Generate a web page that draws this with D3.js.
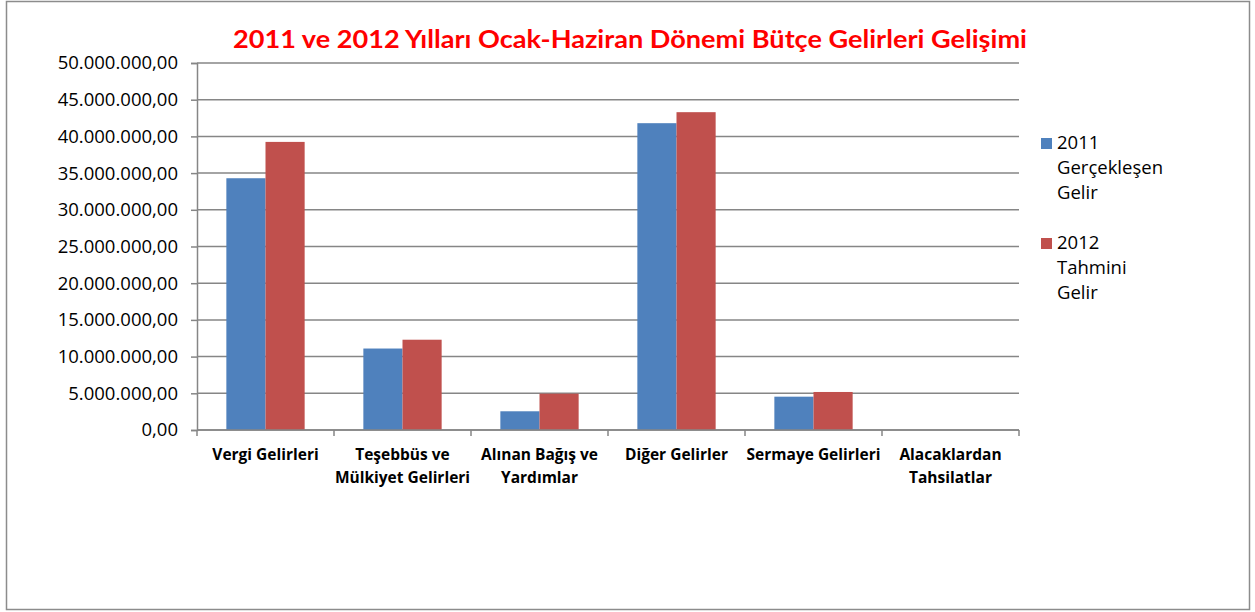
<!DOCTYPE html>
<html>
<head>
<meta charset="utf-8">
<script src="https://cdn.jsdelivr.net/npm/d3@7"></script>
<style>
  body { margin: 0; background: #fff; }
  text { font-family: "Open Sans", sans-serif; }
</style>
</head>
<body>
<div id="chart"></div>
<script>
// categories and values
var categories = [
  ["Vergi Gelirleri"],
  ["Teşebbüs ve", "Mülkiyet Gelirleri"],
  ["Alınan Bağış ve", "Yardımlar"],
  ["Diğer Gelirler"],
  ["Sermaye Gelirleri"],
  ["Alacaklardan", "Tahsilatlar"]
];
var gelir2011 = [34300000, 11100000, 2550000, 41800000, 4540000, 0];
var gelir2012 = [39250000, 12300000, 4950000, 43300000, 5180000, 0];
var seriesNames = [["2011", "Gerçekleşen", "Gelir"], ["2012", "Tahmini", "Gelir"]];
var colors = ["#4f81bd", "#c0504d"];
var yTicks = [0, 5e6, 10e6, 15e6, 20e6, 25e6, 30e6, 35e6, 40e6, 45e6, 50e6];

var W = 1255, H = 612;
var margin = {top: 63, left: 197, right: 236, bottom: 182};

var svg = d3.select("#chart").append("svg")
  .attr("width", W)
  .attr("height", H);

// outer border
svg.append("rect")
  .attr("x", 6.5).attr("y", 1.5)
  .attr("width", 1243).attr("height", 608)
  .attr("fill", "none")
  .attr("stroke", "#8c8c8c")
  .attr("stroke-width", 1.5);

var locale = d3.formatLocale({decimal: ",", thousands: ".", grouping: [3], currency: ["", ""]});
var fmt = locale.format(",.2f");

var x0 = d3.scaleBand()
  .domain(d3.range(categories.length))
  .range([margin.left, W - margin.right]);

var x1 = d3.scaleBand()
  .domain([0, 1])
  .range([0, x0.bandwidth()])
  .paddingOuter(0.75)
  .paddingInner(0);

var y = d3.scaleLinear()
  .domain([0, 50e6])
  .range([H - margin.bottom, margin.top]);

// gridlines
svg.append("g").selectAll("line")
  .data(yTicks)
  .enter().append("line")
  .attr("x1", margin.left).attr("x2", W - margin.right)
  .attr("y1", d => y(d)).attr("y2", d => y(d))
  .attr("stroke", "#868686")
  .attr("stroke-width", 1.5);

// y axis
var yAxis = svg.append("g")
  .attr("transform", "translate(" + margin.left + ",0)")
  .call(d3.axisLeft(y).tickValues(yTicks).tickFormat(fmt).tickSize(6).tickPadding(13));
yAxis.select(".domain").attr("stroke", "#868686").attr("stroke-width", 1.5);
yAxis.selectAll(".tick line").attr("stroke", "#868686").attr("stroke-width", 1.5);
yAxis.selectAll("text")
  .attr("font-size", 18.5)
  .attr("fill", "#000")
  .style("font-family", "'Open Sans', sans-serif");

// bars
var groups = svg.append("g").selectAll("g")
  .data(categories.map((c, i) => [gelir2011[i], gelir2012[i]]))
  .enter().append("g")
  .attr("transform", (d, i) => "translate(" + x0(i) + ",0)");

groups.selectAll("rect")
  .data(d => d)
  .enter().append("rect")
  .attr("x", (d, j) => x1(j))
  .attr("width", x1.bandwidth())
  .attr("y", d => y(d))
  .attr("height", d => y(0) - y(d))
  .attr("fill", (d, j) => colors[j]);

// x axis
var xTickPos = d3.range(categories.length + 1).map(i => margin.left + i * x0.step());
var xg = svg.append("g");
xg.append("line")
  .attr("x1", margin.left).attr("x2", W - margin.right)
  .attr("y1", y(0)).attr("y2", y(0))
  .attr("stroke", "#868686").attr("stroke-width", 1.5);
xg.selectAll(".tk")
  .data(xTickPos)
  .enter().append("line")
  .attr("x1", d => d).attr("x2", d => d)
  .attr("y1", y(0)).attr("y2", y(0) + 6)
  .attr("stroke", "#868686").attr("stroke-width", 1.5);

var xl = svg.append("g").selectAll("text")
  .data(categories)
  .enter().append("text")
  .attr("text-anchor", "middle")
  .attr("font-size", 15.5)
  .attr("font-weight", "bold")
  .attr("x", (d, i) => x0(i) + x0.bandwidth() / 2)
  .attr("y", 460);
xl.selectAll("tspan")
  .data(d => d)
  .enter().append("tspan")
  .attr("x", function() { return this.parentNode.getAttribute("x"); })
  .attr("dy", (d, k) => k === 0 ? 0 : 23)
  .text(d => d);

// title
svg.append("text")
  .attr("x", 630).attr("y", 48)
  .attr("text-anchor", "middle")
  .attr("font-size", 25)
  .attr("font-weight", "bold")
  .attr("fill", "#ff0000")
  .attr("textLength", 794)
  .attr("lengthAdjust", "spacingAndGlyphs")
  .style("font-family", "Lato, sans-serif")
  .text("2011 ve 2012 Yılları Ocak-Haziran Dönemi Bütçe Gelirleri Gelişimi");

// legend
var legend = svg.append("g").selectAll("g")
  .data(seriesNames)
  .enter().append("g")
  .attr("transform", (d, i) => "translate(1041," + (138 + i * 100) + ")");
legend.append("rect")
  .attr("width", 11).attr("height", 11)
  .attr("fill", (d, i) => colors[i]);
legend.append("text")
  .attr("font-size", 18.5)
  .attr("fill", "#000")
  .selectAll("tspan")
  .data(d => d)
  .enter().append("tspan")
  .attr("x", 16)
  .attr("y", (d, k) => 11 + k * 25)
  .text(d => d);
</script>
</body>
</html>
